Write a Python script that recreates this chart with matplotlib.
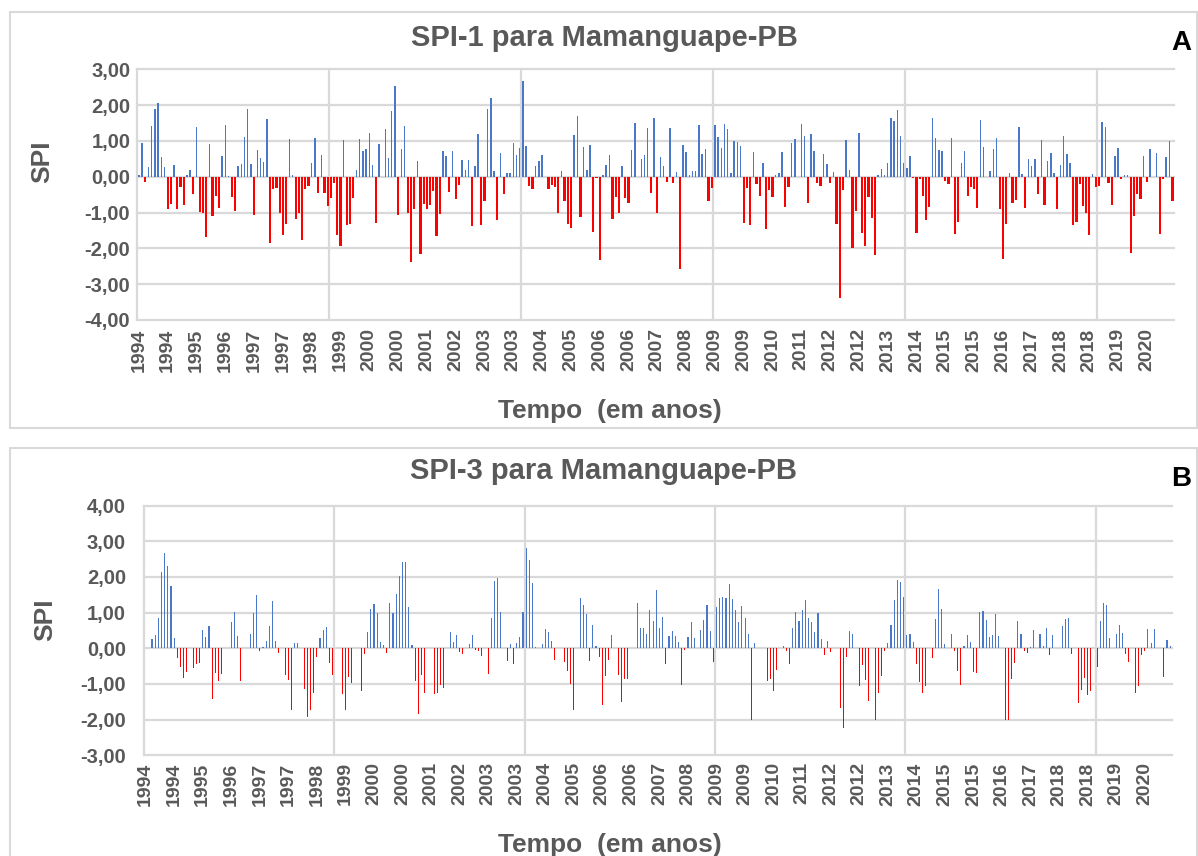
import matplotlib
matplotlib.use('Agg')
import matplotlib.pyplot as plt
from matplotlib.patches import Rectangle
import numpy as np

plt.rcParams['font.family'] = ['Liberation Sans', 'DejaVu Sans']

start_year = 1994
tick_step = 9          # category label interval (months)
grid_step = 60         # vertical gridline interval (months)

title_a = "SPI-1 para Mamanguape-PB"
title_b = "SPI-3 para Mamanguape-PB"
xlabel = "Tempo  (em anos)"
ylabel = "SPI"

# monthly SPI-1, Jan 1994 .. Dec 2020
spi1 = [
    0.06, 0.95, -0.14, 0.26, 1.42, 1.88, 2.07, 0.56, 0.26, -0.90, -0.76, 0.34,
    -0.90, -0.28, -0.79, 0.05, 0.19, -0.48, 1.38, -0.98, -1.00, -1.67, 0.90, -1.09,
    -0.53, -0.87, 0.57, 1.43, 0.03, -0.56, -0.95, 0.30, 0.35, 1.10, 1.89, 0.35,
    -1.06, 0.74, 0.53, 0.41, 1.60, -1.86, -0.33, -0.31, -1.02, -1.62, -1.33, 1.05,
    0.04, -1.17, -1.02, -1.76, -0.33, -0.25, 0.38, 1.09, -0.45, 0.60, -0.45, -0.81,
    -0.59, -0.17, -1.62, -1.93, 1.01, -1.34, -1.31, -0.59, 0.19, 1.05, 0.72, 0.76,
    1.21, 0.33, -1.28, 0.90, 0.00, 1.33, 0.51, 1.83, 2.54, -1.06, 0.76, 1.41,
    -1.02, -2.37, -0.90, 0.44, -2.17, -0.76, -0.90, -0.79, -0.39, -1.65, -1.03, 0.72,
    0.57, -0.42, 0.73, -0.61, -0.22, 0.47, 0.18, 0.47, -1.37, 0.30, 1.18, -1.34,
    -0.67, 1.88, 2.21, 0.16, -1.20, 0.65, -0.48, 0.09, 0.09, 0.93, 0.60, 0.80,
    2.68, 0.87, -0.26, -0.33, 0.30, 0.44, 0.60, 0.00, -0.33, -0.22, -0.28, -1.00,
    0.16, -0.67, -1.31, -1.42, 1.16, 1.69, -1.12, 0.83, 0.20, 0.88, -1.53, -0.05,
    -2.33, 0.05, 0.34, 0.60, -1.17, -0.56, -1.00, 0.30, -0.59, -0.73, 0.74, 1.49,
    0.00, 0.49, 0.60, 1.35, -0.45, 1.65, -1.00, 0.54, 0.30, -0.14, 1.35, -0.17,
    0.12, -2.59, 0.88, 0.69, 0.05, 0.15, 0.16, 1.44, 0.63, 0.77, -0.67, -0.31,
    1.44, 1.10, 0.79, 1.46, 1.32, 0.09, 1.00, 0.96, 0.86, -1.28, -0.31, -1.34,
    0.68, -0.20, -0.53, 0.37, -1.45, -0.36, -0.56, 0.05, 0.09, 0.69, -0.84, -0.28,
    0.95, 1.05, 0.00, 1.46, 1.13, -0.73, 1.19, 0.73, -0.17, -0.25, 0.62, 0.35,
    -0.17, 0.12, -1.31, -3.38, -0.36, 1.01, 0.19, -1.98, -0.95, 1.21, -1.56, -1.93,
    -0.56, -1.14, -2.18, 0.05, 0.22, 0.05, 0.39, 1.63, 1.55, 1.86, 1.13, 0.39,
    0.24, 0.59, -0.05, -1.56, -0.07, -0.53, -1.20, -0.84, 1.63, 1.08, 0.74, 0.73,
    -0.11, -0.20, 1.08, -1.59, -1.26, 0.38, 0.72, -0.53, -0.28, -0.33, -0.87, 1.58,
    0.82, 0.00, 0.16, 0.78, 1.07, -0.90, -2.29, -1.31, 0.09, -0.73, -0.64, 1.39,
    0.07, -0.87, 0.49, 0.30, 0.48, -0.47, 1.01, -0.78, 0.44, 0.65, 0.11, -0.89,
    0.33, 1.13, 0.63, 0.39, -1.34, -1.26, -0.20, -0.81, -1.00, -1.62, 0.07, -0.28,
    -0.25, 1.53, 1.40, -0.17, -0.78, 0.58, 0.80, -0.07, 0.05, 0.05, -2.12, -1.09,
    -0.47, -0.61, 0.59, -0.14, 0.76, 0.00, 0.65, -1.59, -0.07, 0.54, 1.00, -0.67,
]

# monthly SPI-3, Jan 1994 .. Dec 2020 (first two months undefined)
spi3 = [
    np.nan, np.nan, 0.26, 0.36, 0.84, 2.14, 2.68, 2.31, 1.75, 0.29, -0.26, -0.51,
    -0.82, -0.65, -1.05, -0.54, -0.43, -0.40, 0.51, 0.32, 0.63, -1.41, -0.68, -0.91,
    -0.71, -1.27, -0.26, 0.75, 1.01, 0.34, -0.91, -0.82, -0.51, 0.40, 0.99, 1.50,
    -0.07, 0.04, 0.21, 0.63, 1.33, 0.21, -0.12, -1.39, -0.74, -0.88, -1.74, 0.14,
    0.14, -0.35, -1.13, -1.92, -1.74, -1.24, -0.23, 0.29, 0.50, 0.59, -0.40, -0.74,
    -1.10, -0.79, -1.27, -1.74, -0.79, -0.96, -0.77, -1.78, -1.19, -0.15, 0.46, 1.10,
    1.25, 0.98, 0.18, 0.08, -0.12, 1.27, 0.98, 1.51, 2.03, 2.43, 2.41, 1.16,
    0.08, -0.92, -1.83, -0.74, -1.24, -1.24, -1.89, -1.27, -1.24, -1.02, -1.10, -0.26,
    0.46, 0.17, 0.37, -0.09, -0.15, -0.21, 0.12, 0.37, -0.04, -0.07, -0.21, -0.15,
    -0.71, 0.84, 1.89, 1.97, 1.01, -0.07, -0.35, 0.12, -0.43, 0.14, 0.32, 1.03,
    2.80, 2.48, 1.82, 0.03, -0.32, 0.12, 0.53, 0.45, 0.21, -0.32, -0.60, -1.30,
    -0.37, -0.63, -0.99, -1.72, -0.43, 1.40, 1.21, 0.96, -0.35, 0.64, 0.07, -0.23,
    -1.58, -0.77, -0.32, 0.37, -0.15, -0.74, -1.50, -0.85, -0.85, -0.23, -0.46, 1.28,
    0.57, 0.56, 0.39, 1.06, 0.77, 1.64, 0.57, 0.87, -0.43, 0.34, 0.48, 0.34,
    0.17, -1.02, -0.04, 0.32, 0.74, 0.29, 0.00, 0.51, 0.79, 1.21, 0.48, -0.37,
    1.16, 1.40, 1.43, 1.41, 1.80, 1.37, 1.06, 0.75, 1.19, 0.84, 0.40, -2.02,
    0.15, 0.00, -0.15, -0.23, -0.91, -0.85, -1.21, -0.60, -0.51, 0.07, -0.07, -0.43,
    0.57, 1.01, 0.77, 1.08, 1.34, 0.85, 0.74, 0.45, 0.99, 0.26, -0.18, 0.21,
    -0.09, -0.12, -0.79, -1.66, -2.22, -0.23, 0.48, 0.40, -0.65, -1.05, -0.46, -0.88,
    -1.47, -1.58, -2.00, -1.24, -0.77, -0.07, 0.14, 0.64, 1.36, 1.92, 1.86, 1.45,
    0.37, 0.39, 0.18, -0.43, -0.93, -1.24, -1.05, -1.27, -0.26, 0.81, 1.66, 1.09,
    0.13, -0.15, 0.39, -0.07, -0.63, -1.02, 0.07, 0.37, 0.17, -0.65, -0.68, 1.03,
    1.05, 0.79, 0.32, 0.36, 0.96, 0.35, -0.74, -2.02, -2.00, -0.85, -0.40, 0.77,
    0.39, -0.07, -0.12, 0.04, 0.51, -0.09, 0.39, 0.07, 0.57, -0.18, 0.37, -0.51,
    -0.12, 0.62, 0.82, 0.85, -0.15, -1.36, -1.53, -1.16, -0.82, -1.30, -1.19, -0.99,
    -0.51, 0.76, 1.26, 1.21, 0.29, -0.15, 0.39, 0.64, 0.44, -0.15, -0.37, -1.61,
    -1.24, -1.07, -0.18, -0.07, 0.54, 0.15, 0.54, 0.00, 0.00, -0.79, 0.22, 0.07,
]

W, H = 1198, 856
fig = plt.figure(figsize=(W / 100, H / 100), dpi=100)

GRAY_TXT = '#595959'
GRID = '#D9D9D9'
BLUE = '#4A78C8'
RED = '#FF0000'


def add_ax(l, t, r, b):
    return fig.add_axes([l / W, 1 - b / H, (r - l) / W, (b - t) / H])


def fx(x):
    return x / W


def fy(y):
    return 1 - y / H


# panel frames
for (l, t, r, b) in [(10, 12, 1197, 428), (10, 448, 1197, 860)]:
    fig.patches.append(Rectangle((fx(l), fy(b)), fx(r - l), (b - t) / H,
                                 transform=fig.transFigure, fill=False,
                                 edgecolor=GRID, linewidth=1.5, zorder=0))


def panel(ax, vals, ylo, yhi, wpos, wneg, ypad, xpad):
    v = np.array(vals, dtype=float)
    n = len(v)
    x = np.arange(n)
    pos = np.where(v > 0, v, 0.0)
    neg = np.where(v < 0, v, 0.0)
    ax.bar(x, pos, width=wpos, color=BLUE, linewidth=0, zorder=3)
    ax.bar(x, neg, width=wneg, color=RED, linewidth=0, zorder=3)
    ax.set_xlim(-0.5, n - 0.5)
    ax.set_ylim(ylo, yhi)
    for yv in range(ylo, yhi + 1):
        ax.axhline(yv, color=GRID, lw=1.6, zorder=1, clip_on=False)
    for k in range(0, n, grid_step):
        ax.axvline(k - 0.5, color=GRID, lw=1.6, zorder=1, clip_on=False)
    for s in ax.spines.values():
        s.set_visible(False)
    yt = list(range(ylo, yhi + 1))
    ax.set_yticks(yt)
    ax.set_yticklabels([f"{yv:.2f}".replace('.', ',') for yv in yt],
                       fontweight='bold', fontsize=14.5)
    xt = list(range(0, n, tick_step))
    ax.set_xticks(xt)
    ax.set_xticklabels([str(start_year + m // 12) for m in xt],
                       rotation=90, fontweight='bold', fontsize=14)
    ax.tick_params(axis='both', length=0, labelcolor=GRAY_TXT)
    ax.tick_params(axis='y', pad=ypad)
    ax.tick_params(axis='x', pad=xpad)
    ax.set_facecolor('none')


axA = add_ax(137.3, 69.2, 1174.1, 320.0)
panel(axA, spi1, -4, 3, 0.42, 0.72, 5, 6)

axB = add_ax(144.0, 505.5, 1171.7, 755.4)
panel(axB, spi3, -3, 4, 0.36, 0.24, 13, 5)

# texts
fig.text(fx(604), fy(38), title_a, ha='center', va='center', fontsize=21,
         fontweight='bold', color=GRAY_TXT)
fig.text(fx(604), fy(471), title_b, ha='center', va='center', fontsize=21,
         fontweight='bold', color=GRAY_TXT)
fig.text(fx(1181), fy(43), "A", ha='center', va='center', fontsize=20,
         fontweight='bold', color='black')
fig.text(fx(1181), fy(479), "B", ha='center', va='center', fontsize=20,
         fontweight='bold', color='black')
fig.text(fx(42), fy(162), ylabel, ha='center', va='center', rotation=90,
         fontsize=19, fontweight='bold', color=GRAY_TXT)
fig.text(fx(45), fy(620), ylabel, ha='center', va='center', rotation=90,
         fontsize=19, fontweight='bold', color=GRAY_TXT)
fig.text(fx(610), fy(411), xlabel, ha='center', va='center', fontsize=19,
         fontweight='bold', color=GRAY_TXT)
fig.text(fx(610), fy(845), xlabel, ha='center', va='center', fontsize=19,
         fontweight='bold', color=GRAY_TXT)

fig.savefig('out.png', dpi=100, facecolor='white')
